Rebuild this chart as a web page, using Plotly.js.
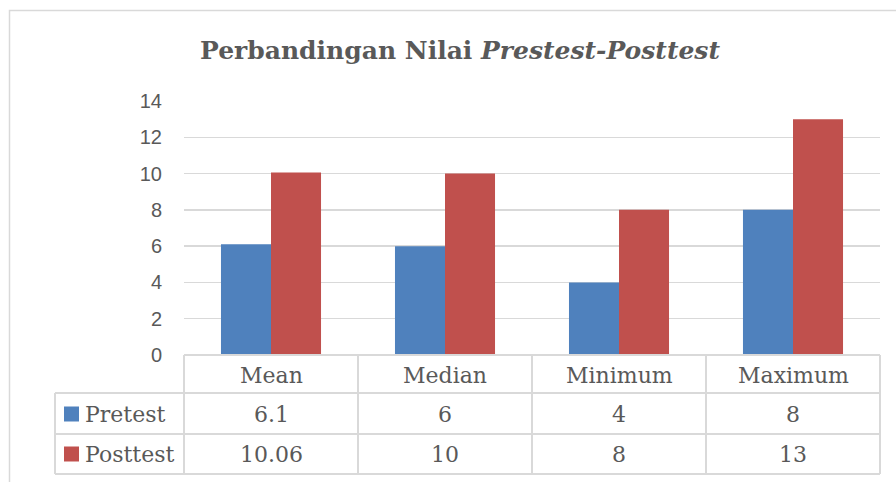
<!DOCTYPE html>
<html>
<head>
<meta charset="utf-8">
<script src="https://cdn.plot.ly/plotly-3.0.1.min.js"></script>
<style>
  html, body { margin: 0; padding: 0; background: #ffffff; }
  #chart { width: 896px; height: 482px; }
</style>
</head>
<body>
<div id="chart"></div>
<script>
// ---- data ----
const categories = ["Mean", "Median", "Minimum", "Maximum"];
const seriesNames = ["Pretest", "Posttest"];
const pretest = [6.1, 6, 4, 8];
const posttest = [10.06, 10, 8, 13];
const yTicks = [0, 2, 4, 6, 8, 10, 12, 14];

// ---- styling ----
const W = 896, H = 482;
const plotL = 184, plotR = 880, plotT = 101, plotB = 355;
const colors = ["#4F81BD", "#C0504D"];
const gridColor = "#D9D9D9";
const textColor = "#595959";
const tableFont = { family: "DejaVu Serif", size: 22, color: textColor };

// pixel -> paper helpers
const px = v => (v - plotL) / (plotR - plotL);
const py = v => (plotB - v) / (plotB - plotT);

const traces = [
  { type: "bar", name: seriesNames[0], x: categories, y: pretest,
    marker: { color: colors[0] }, showlegend: false, hoverinfo: "x+y+name" },
  { type: "bar", name: seriesNames[1], x: categories, y: posttest,
    marker: { color: colors[1] }, showlegend: false, hoverinfo: "x+y+name" }
];

// table geometry (pixels)
const colEdges = [184, 358, 532, 706, 880];
const tableLeft = 55;
const rowEdges = [355, 393, 434, 474];
const rowCenters = [375, 414, 454];
const lineStyle = { color: gridColor, width: 2 };

const shapes = [];
// outer chart border
shapes.push({ type: "rect", xref: "paper", yref: "paper",
  x0: px(9.5), x1: px(920), y0: py(10.5), y1: py(520),
  line: { color: gridColor, width: 1.5 }, fillcolor: "rgba(0,0,0,0)", layer: "below" });
// horizontal table lines
shapes.push({ type: "line", xref: "paper", yref: "paper",
  x0: px(colEdges[0]), x1: px(colEdges[colEdges.length - 1]),
  y0: py(rowEdges[0]), y1: py(rowEdges[0]), line: lineStyle });
for (let r = 1; r < rowEdges.length; r++) {
  shapes.push({ type: "line", xref: "paper", yref: "paper",
    x0: px(tableLeft), x1: px(colEdges[colEdges.length - 1]),
    y0: py(rowEdges[r]), y1: py(rowEdges[r]), line: lineStyle });
}
// vertical table lines
shapes.push({ type: "line", xref: "paper", yref: "paper",
  x0: px(tableLeft), x1: px(tableLeft), y0: py(rowEdges[1]), y1: py(rowEdges[3]), line: lineStyle });
colEdges.forEach(c => {
  shapes.push({ type: "line", xref: "paper", yref: "paper",
    x0: px(c), x1: px(c), y0: py(rowEdges[0]), y1: py(rowEdges[3]), line: lineStyle });
});
// legend keys
[0, 1].forEach(s => {
  const cy = rowCenters[s + 1];
  shapes.push({ type: "rect", xref: "paper", yref: "paper",
    x0: px(64), x1: px(79), y0: py(cy - 7.5), y1: py(cy + 7.5),
    line: { width: 0 }, fillcolor: colors[s] });
});

const annotations = [];
categories.forEach((c, i) => {
  const cx = (colEdges[i] + colEdges[i + 1]) / 2;
  annotations.push({ xref: "paper", yref: "paper", x: px(cx), y: py(rowCenters[0]),
    text: c, showarrow: false, xanchor: "center", yanchor: "middle", font: tableFont });
  annotations.push({ xref: "paper", yref: "paper", x: px(cx), y: py(rowCenters[1]),
    text: String(pretest[i]), showarrow: false, xanchor: "center", yanchor: "middle", font: tableFont });
  annotations.push({ xref: "paper", yref: "paper", x: px(cx), y: py(rowCenters[2]),
    text: String(posttest[i]), showarrow: false, xanchor: "center", yanchor: "middle", font: tableFont });
});
seriesNames.forEach((n, s) => {
  annotations.push({ xref: "paper", yref: "paper", x: px(83), y: py(rowCenters[s + 1]),
    text: n, showarrow: false, xanchor: "left", yanchor: "middle", font: tableFont });
});

const layout = {
  width: W, height: H,
  margin: { l: plotL, r: W - plotR, t: plotT, b: H - plotB, pad: 0 },
  paper_bgcolor: "#ffffff", plot_bgcolor: "#ffffff",
  title: {
    text: "<b>Perbandingan Nilai <i>Prestest-Posttest</i></b>",
    font: { family: "DejaVu Serif", size: 25, color: textColor },
    x: 460 / W, xanchor: "center", xref: "container",
    y: 1 - 50 / H, yanchor: "middle", yref: "container"
  },
  barmode: "group", bargap: 0.425, bargroupgap: 0,
  xaxis: { type: "category", showticklabels: false, showgrid: false, zeroline: false,
    showline: false, ticks: "", fixedrange: true },
  yaxis: { range: [0, 14], tickvals: yTicks, ticktext: yTicks.map(String),
    showgrid: true, gridcolor: gridColor, gridwidth: 1.5, zeroline: false,
    showline: false, ticks: "", ticklabelstandoff: 21,
    tickfont: { family: "Liberation Sans", size: 20, color: textColor }, fixedrange: true },
  shapes: shapes,
  annotations: annotations,
  showlegend: false
};

Plotly.newPlot("chart", traces, layout, { displayModeBar: false, staticPlot: true });
</script>
</body>
</html>
